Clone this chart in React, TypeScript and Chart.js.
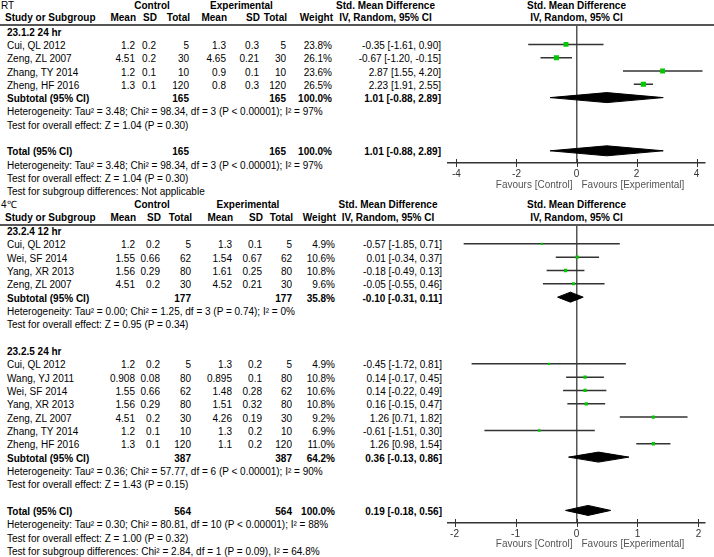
import React, { useEffect, useRef } from "react";
import { Chart, registerables } from "chart.js";
Chart.register(...registerables);

const FONT = '"Liberation Sans", Arial, Helvetica, sans-serif';

/* ---------------- RT ---------------- */
const rtTitle = "RT";
const rtGroupLabel = "23.1.2 24 hr";
const rtStudies = ["Cui, QL 2012", "Zeng, ZL 2007", "Zhang, TY 2014", "Zheng, HF 2016"];
const rtCtrlMean = [1.2, 4.51, 1.2, 1.3];
const rtCtrlSD = [0.2, 0.2, 0.1, 0.1];
const rtCtrlN = [5, 30, 10, 120];
const rtExpMean = [1.3, 4.65, 0.9, 0.8];
const rtExpSD = [0.3, 0.21, 0.1, 0.3];
const rtExpN = [5, 30, 10, 120];
const rtWeight = [23.8, 26.1, 23.6, 26.5];
const rtSmd = [-0.35, -0.67, 2.87, 2.23];
const rtLo = [-1.61, -1.2, 1.55, 1.91];
const rtHi = [0.9, -0.15, 4.2, 2.55];
const rtSubN = [165, 165];
const rtSubWeight = 100.0;
const rtSubCI = [1.01, -0.88, 2.89];
const rtSubHet = "Heterogeneity: Tau² = 3.48; Chi² = 98.34, df = 3 (P < 0.00001); I² = 97%";
const rtSubTest = "Test for overall effect: Z = 1.04 (P = 0.30)";
const rtTotN = [165, 165];
const rtTotWeight = 100.0;
const rtTotCI = [1.01, -0.88, 2.89];
const rtTotHet = "Heterogeneity: Tau² = 3.48; Chi² = 98.34, df = 3 (P < 0.00001); I² = 97%";
const rtTotTest = "Test for overall effect: Z = 1.04 (P = 0.30)";
const rtSubgroupTest = "Test for subgroup differences: Not applicable";
const rtTicks = [-4, -2, 0, 2, 4];

/* ---------------- 4℃ ---------------- */
const c4Title = "4℃";
const c4g1Label = "23.2.4 12 hr";
const c4g1Studies = ["Cui, QL 2012", "Wei, SF 2014", "Yang, XR 2013", "Zeng, ZL 2007"];
const c4g1CtrlMean = [1.2, 1.55, 1.56, 4.51];
const c4g1CtrlSD = [0.2, 0.66, 0.29, 0.2];
const c4g1CtrlN = [5, 62, 80, 30];
const c4g1ExpMean = [1.3, 1.54, 1.61, 4.52];
const c4g1ExpSD = [0.1, 0.67, 0.25, 0.21];
const c4g1ExpN = [5, 62, 80, 30];
const c4g1Weight = [4.9, 10.6, 10.8, 9.6];
const c4g1Smd = [-0.57, 0.01, -0.18, -0.05];
const c4g1Lo = [-1.85, -0.34, -0.49, -0.55];
const c4g1Hi = [0.71, 0.37, 0.13, 0.46];
const c4g1SubN = [177, 177];
const c4g1SubWeight = 35.8;
const c4g1SubCI = [-0.1, -0.31, 0.11];
const c4g1Het = "Heterogeneity: Tau² = 0.00; Chi² = 1.25, df = 3 (P = 0.74); I² = 0%";
const c4g1Test = "Test for overall effect: Z = 0.95 (P = 0.34)";

const c4g2Label = "23.2.5 24 hr";
const c4g2Studies = ["Cui, QL 2012", "Wang, YJ 2011", "Wei, SF 2014", "Yang, XR 2013", "Zeng, ZL 2007", "Zhang, TY 2014", "Zheng, HF 2016"];
const c4g2CtrlMean = [1.2, 0.908, 1.55, 1.56, 4.51, 1.2, 1.3];
const c4g2CtrlSD = [0.2, 0.08, 0.66, 0.29, 0.2, 0.1, 0.1];
const c4g2CtrlN = [5, 80, 62, 80, 30, 10, 120];
const c4g2ExpMean = [1.3, 0.895, 1.48, 1.51, 4.26, 1.3, 1.1];
const c4g2ExpSD = [0.2, 0.1, 0.28, 0.32, 0.19, 0.2, 0.2];
const c4g2ExpN = [5, 80, 62, 80, 30, 10, 120];
const c4g2Weight = [4.9, 10.8, 10.6, 10.8, 9.2, 6.9, 11.0];
const c4g2Smd = [-0.45, 0.14, 0.14, 0.16, 1.26, -0.61, 1.26];
const c4g2Lo = [-1.72, -0.17, -0.22, -0.15, 0.71, -1.51, 0.98];
const c4g2Hi = [0.81, 0.45, 0.49, 0.47, 1.82, 0.3, 1.54];
const c4g2SubN = [387, 387];
const c4g2SubWeight = 64.2;
const c4g2SubCI = [0.36, -0.13, 0.86];
const c4g2Het = "Heterogeneity: Tau² = 0.36; Chi² = 57.77, df = 6 (P < 0.00001); I² = 90%";
const c4g2Test = "Test for overall effect: Z = 1.43 (P = 0.15)";

const c4TotN = [564, 564];
const c4TotWeight = 100.0;
const c4TotCI = [0.19, -0.18, 0.56];
const c4TotHet = "Heterogeneity: Tau² = 0.30; Chi² = 80.81, df = 10 (P < 0.00001); I² = 88%";
const c4TotTest = "Test for overall effect: Z = 1.00 (P = 0.32)";
const c4SubgroupTest = "Test for subgroup differences: Chi² = 2.84, df = 1 (P = 0.09), I² = 64.8%";
const c4Ticks = [-2, -1, 0, 1, 2];

/* ---------------- shared labels ---------------- */
const hdrControl = "Control";
const hdrExperimental = "Experimental";
const hdrSmd = "Std. Mean Difference";
const hdrMethod = "IV, Random, 95% CI";
const hdrStudy = "Study or Subgroup";
const hdrMean = "Mean";
const hdrSD = "SD";
const hdrTotal = "Total";
const hdrWeight = "Weight";
const lblSubtotal = "Subtotal (95% CI)";
const lblTotal = "Total (95% CI)";
const favoursLeft = "Favours [Control]";
const favoursRight = "Favours [Experimental]";

/* ---------------- row model ---------------- */
type Row = {
  kind: "group" | "study" | "subtotal" | "total" | "note" | "blank";
  label?: string;
  cm?: number; cs?: number; cn?: number;
  em?: number; es?: number; en?: number;
  w?: number; est?: number; lo?: number; hi?: number;
};

function studyRows(names: string[], cm: number[], cs: number[], cn: number[], em: number[], es: number[], en: number[], w: number[], est: number[], lo: number[], hi: number[]): Row[] {
  return names.map((label, i) => ({ kind: "study", label, cm: cm[i], cs: cs[i], cn: cn[i], em: em[i], es: es[i], en: en[i], w: w[i], est: est[i], lo: lo[i], hi: hi[i] }));
}
function pooledRow(kind: "subtotal" | "total", n: number[], w: number, ci: number[]): Row {
  return { kind, label: kind === "subtotal" ? lblSubtotal : lblTotal, cn: n[0], en: n[1], w, est: ci[0], lo: ci[1], hi: ci[2] };
}
const note = (label: string): Row => ({ kind: "note", label });

const rtRows: Row[] = [
  { kind: "group", label: rtGroupLabel },
  ...studyRows(rtStudies, rtCtrlMean, rtCtrlSD, rtCtrlN, rtExpMean, rtExpSD, rtExpN, rtWeight, rtSmd, rtLo, rtHi),
  pooledRow("subtotal", rtSubN, rtSubWeight, rtSubCI),
  note(rtSubHet),
  note(rtSubTest),
  { kind: "blank" },
  pooledRow("total", rtTotN, rtTotWeight, rtTotCI),
  note(rtTotHet),
  note(rtTotTest),
  note(rtSubgroupTest),
];

const c4Rows: Row[] = [
  { kind: "group", label: c4g1Label },
  ...studyRows(c4g1Studies, c4g1CtrlMean, c4g1CtrlSD, c4g1CtrlN, c4g1ExpMean, c4g1ExpSD, c4g1ExpN, c4g1Weight, c4g1Smd, c4g1Lo, c4g1Hi),
  pooledRow("subtotal", c4g1SubN, c4g1SubWeight, c4g1SubCI),
  note(c4g1Het),
  note(c4g1Test),
  { kind: "blank" },
  { kind: "group", label: c4g2Label },
  ...studyRows(c4g2Studies, c4g2CtrlMean, c4g2CtrlSD, c4g2CtrlN, c4g2ExpMean, c4g2ExpSD, c4g2ExpN, c4g2Weight, c4g2Smd, c4g2Lo, c4g2Hi),
  pooledRow("subtotal", c4g2SubN, c4g2SubWeight, c4g2SubCI),
  note(c4g2Het),
  note(c4g2Test),
  { kind: "blank" },
  pooledRow("total", c4TotN, c4TotWeight, c4TotCI),
  note(c4TotHet),
  note(c4TotTest),
  note(c4SubgroupTest),
];

/* ---------------- layout (positions only) ---------------- */
type Layout = {
  title: string; titleY: number; headY: number; lineY: number; row0: number; pitch: number;
  left: number; cm: number; cs: number; cn: number; em: number; es: number; en: number; w: number; ci: number;
  ctrlC: number; expC: number; smdC: number;
  canvasTop: number; canvasHeight: number; areaTop: number; areaBottom: number;
  xMin: number; xMax: number; ticks: number[]; favoursY: number;
};

const CANVAS_LEFT = 440;
const CANVAS_WIDTH = 274;
const PAD_L = 8;
const PAD_R = 9;
const MARK_OFFSET = 1.5;
const DIAMOND_HALF_PX = 5;

const topLayout: Layout = {
  title: rtTitle, titleY: 6, headY: 18, lineY: 24, row0: 32.6, pitch: 13.3,
  left: 7, cm: 135, cs: 156, cn: 189, em: 226, es: 259, en: 286, w: 332, ci: 441,
  ctrlC: 152, expC: 241.5, smdC: 385.5,
  canvasTop: 0, canvasHeight: 196, areaTop: 25.5, areaBottom: 163,
  xMin: -4.283, xMax: 4.283, ticks: rtTicks, favoursY: 185,
};
const bottomLayout: Layout = {
  title: c4Title, titleY: 205, headY: 218, lineY: 224, row0: 232, pitch: 13.33,
  left: 7, cm: 135, cs: 160, cn: 191, em: 232, es: 262, en: 292, w: 335, ci: 442,
  ctrlC: 152, expC: 248, smdC: 388,
  canvasTop: 198, canvasHeight: 359, areaTop: 225.5, areaBottom: 523,
  xMin: -2.107, xMax: 2.107, ticks: c4Ticks, favoursY: 544.5,
};

/* ---------------- text helpers ---------------- */
function Txt({ x, y, text, align = "left", bold = false, color = "#000" }: { x: number; y: number; text: string; align?: "left" | "right" | "center"; bold?: boolean; color?: string }) {
  const W = 300;
  const left = align === "left" ? x : align === "right" ? x - W : x - W / 2;
  return (
    <div
      style={{
        position: "absolute", left, top: y - 6, width: W, height: 12, lineHeight: "12px",
        textAlign: align, whiteSpace: "nowrap", fontWeight: bold ? "bold" : "normal", color,
      }}
    >
      {text}
    </div>
  );
}

const fmtCI = (est: number, lo: number, hi: number) => `${est.toFixed(2)} [${lo.toFixed(2)}, ${hi.toFixed(2)}]`;
const fmtW = (w: number) => `${w.toFixed(1)}%`;

function PanelText({ rows, L }: { rows: Row[]; L: Layout }) {
  const out: React.ReactNode[] = [];
  const plotC = CANVAS_LEFT + PAD_L + ((0 - L.xMin) / (L.xMax - L.xMin)) * (CANVAS_WIDTH - PAD_L - PAD_R);
  out.push(<Txt key="t" x={1} y={L.titleY} text={L.title} />);
  out.push(<Txt key="hc" x={L.ctrlC} y={L.titleY} text={hdrControl} align="center" bold />);
  out.push(<Txt key="he" x={L.expC} y={L.titleY} text={hdrExperimental} align="center" bold />);
  out.push(<Txt key="hs" x={L.smdC} y={L.titleY} text={hdrSmd} align="center" bold />);
  out.push(<Txt key="hs2" x={plotC} y={L.titleY} text={hdrSmd} align="center" bold />);
  out.push(<Txt key="h1" x={L.left - 2} y={L.headY} text={hdrStudy} bold />);
  out.push(<Txt key="h2" x={L.cm + 1} y={L.headY} text={hdrMean} align="right" bold />);
  out.push(<Txt key="h3" x={L.cs + 1} y={L.headY} text={hdrSD} align="right" bold />);
  out.push(<Txt key="h4" x={L.cn + 1} y={L.headY} text={hdrTotal} align="right" bold />);
  out.push(<Txt key="h5" x={L.em + 1} y={L.headY} text={hdrMean} align="right" bold />);
  out.push(<Txt key="h6" x={L.es + 1} y={L.headY} text={hdrSD} align="right" bold />);
  out.push(<Txt key="h7" x={L.en + 1} y={L.headY} text={hdrTotal} align="right" bold />);
  out.push(<Txt key="h8" x={L.w + 1} y={L.headY} text={hdrWeight} align="right" bold />);
  out.push(<Txt key="h9" x={L.smdC} y={L.headY} text={hdrMethod} align="center" bold />);
  out.push(<Txt key="h10" x={plotC} y={L.headY} text={hdrMethod} align="center" bold />);
  out.push(
    <div key="line" style={{ position: "absolute", left: 0, top: L.lineY, width: 714, height: 2, background: "#555" }} />
  );
  rows.forEach((r, i) => {
    const y = L.row0 + i * L.pitch;
    const k = `r${i}`;
    if (r.kind === "group") out.push(<Txt key={k} x={L.left} y={y} text={r.label!} bold />);
    else if (r.kind === "note") out.push(<Txt key={k} x={L.left} y={y} text={r.label!} />);
    else if (r.kind === "study") {
      out.push(<Txt key={k + "a"} x={L.left} y={y} text={r.label!} />);
      out.push(<Txt key={k + "b"} x={L.cm} y={y} text={String(r.cm)} align="right" />);
      out.push(<Txt key={k + "c"} x={L.cs} y={y} text={String(r.cs)} align="right" />);
      out.push(<Txt key={k + "d"} x={L.cn} y={y} text={String(r.cn)} align="right" />);
      out.push(<Txt key={k + "e"} x={L.em} y={y} text={String(r.em)} align="right" />);
      out.push(<Txt key={k + "f"} x={L.es} y={y} text={String(r.es)} align="right" />);
      out.push(<Txt key={k + "g"} x={L.en} y={y} text={String(r.en)} align="right" />);
      out.push(<Txt key={k + "h"} x={L.w} y={y} text={fmtW(r.w!)} align="right" />);
      out.push(<Txt key={k + "i"} x={L.ci} y={y} text={fmtCI(r.est!, r.lo!, r.hi!)} align="right" />);
    } else if (r.kind === "subtotal" || r.kind === "total") {
      out.push(<Txt key={k + "a"} x={L.left} y={y} text={r.label!} bold />);
      out.push(<Txt key={k + "d"} x={L.cn} y={y} text={String(r.cn)} align="right" bold />);
      out.push(<Txt key={k + "g"} x={L.en} y={y} text={String(r.en)} align="right" bold />);
      out.push(<Txt key={k + "h"} x={L.w} y={y} text={fmtW(r.w!)} align="right" bold />);
      out.push(<Txt key={k + "i"} x={L.ci} y={y} text={fmtCI(r.est!, r.lo!, r.hi!)} align="right" bold />);
    }
  });
  return <>{out}</>;
}

/* ---------------- forest plot chart ---------------- */
const forestDecor = {
  id: "forestDecor",
  afterDraw(chart: any, _args: any, opts: any) {
    const { ctx, chartArea } = chart;
    const x = chart.scales.x;
    ctx.save();
    ctx.strokeStyle = "#333";
    ctx.lineWidth = 1;
    for (const t of x.ticks) {
      const px = Math.round(x.getPixelForValue(t.value)) + 0.5;
      ctx.beginPath();
      ctx.moveTo(px, chartArea.bottom - 4);
      ctx.lineTo(px, chartArea.bottom + 4);
      ctx.stroke();
    }
    const p0 = x.getPixelForValue(0);
    ctx.font = `10px ${FONT}`;
    ctx.fillStyle = "#555";
    ctx.textBaseline = "middle";
    ctx.textAlign = "right";
    ctx.fillText(favoursLeft, p0 - 4, opts.favoursY);
    ctx.textAlign = "left";
    ctx.fillText(favoursRight, p0 + 5, opts.favoursY);
    ctx.restore();
  },
};

function ForestPlot({ rows, L }: { rows: Row[]; L: Layout }) {
  const ref = useRef<HTMLCanvasElement>(null);
  useEffect(() => {
    if (!ref.current) return;
    const squares: { x: number; y: number }[] = [];
    const sqRadius: number[] = [];
    const others: any[] = [];
    const h = DIAMOND_HALF_PX / L.pitch;
    rows.forEach((r, i) => {
      if (r.kind === "study") {
        others.push({
          data: [{ x: r.lo, y: i }, { x: r.hi, y: i }],
          showLine: true, borderColor: "#333", borderWidth: 1.5, pointRadius: 0, order: 2,
        });
        squares.push({ x: r.est!, y: i });
        sqRadius.push(Math.sqrt(r.w!) / Math.SQRT2);
      } else if (r.kind === "subtotal" || r.kind === "total") {
        others.push({
          data: [
            { x: r.lo, y: i }, { x: r.est, y: i - h }, { x: r.hi, y: i }, { x: r.est, y: i + h }, { x: r.lo, y: i },
          ],
          showLine: true, borderColor: "#000", backgroundColor: "#000", borderWidth: 1, pointRadius: 0,
          fill: "shape", tension: 0, order: 2,
        });
      }
    });
    const datasets = [
      { data: squares, pointStyle: "rect", pointRadius: sqRadius, backgroundColor: "#00c800", borderWidth: 0, showLine: false, order: 0 },
      ...others,
    ];
    const yMin = (L.areaTop - (L.row0 - MARK_OFFSET)) / L.pitch;
    const yMax = (L.areaBottom - (L.row0 - MARK_OFFSET)) / L.pitch;
    const chart = new Chart(ref.current, {
      type: "scatter",
      data: { datasets } as any,
      options: {
        responsive: false,
        animation: false,
        events: [],
        layout: { padding: { left: PAD_L, right: PAD_R, top: L.areaTop - L.canvasTop, bottom: 0 } },
        plugins: {
          legend: { display: false },
          tooltip: { enabled: false },
          forestDecor: { favoursY: L.favoursY - L.canvasTop },
        } as any,
        scales: {
          x: {
            type: "linear",
            min: L.xMin,
            max: L.xMax,
            afterBuildTicks: (s: any) => { s.ticks = L.ticks.map((v) => ({ value: v })); },
            afterFit: (s: any) => { s.height = L.canvasTop + L.canvasHeight - L.areaBottom; },
            ticks: { autoSkip: false, maxRotation: 0, padding: 5, color: "#333", font: { family: FONT, size: 10 }, callback: (v: any) => String(v) },
            grid: {
              drawTicks: false,
              color: (c: any) => (c.tick && c.tick.value === 0 ? "#555" : "rgba(0,0,0,0)"),
              lineWidth: 1.5,
            },
            border: { display: true, color: "#333", width: 1.5 },
          },
          y: { type: "linear", reverse: true, min: yMin, max: yMax, display: false },
        },
      } as any,
      plugins: [forestDecor as any],
    });
    return () => chart.destroy();
  }, [rows, L]);
  return (
    <canvas
      ref={ref}
      width={CANVAS_WIDTH}
      height={L.canvasHeight}
      style={{ position: "absolute", left: CANVAS_LEFT, top: L.canvasTop, width: CANVAS_WIDTH, height: L.canvasHeight }}
    />
  );
}

export default function App() {
  return (
    <div
      style={{
        position: "absolute", left: 0, top: 0, width: 714, height: 557, overflow: "hidden",
        background: "#fff", fontFamily: FONT, fontSize: 10, color: "#000",
      }}
    >
      <PanelText rows={rtRows} L={topLayout} />
      <PanelText rows={c4Rows} L={bottomLayout} />
      <ForestPlot rows={rtRows} L={topLayout} />
      <ForestPlot rows={c4Rows} L={bottomLayout} />
    </div>
  );
}
